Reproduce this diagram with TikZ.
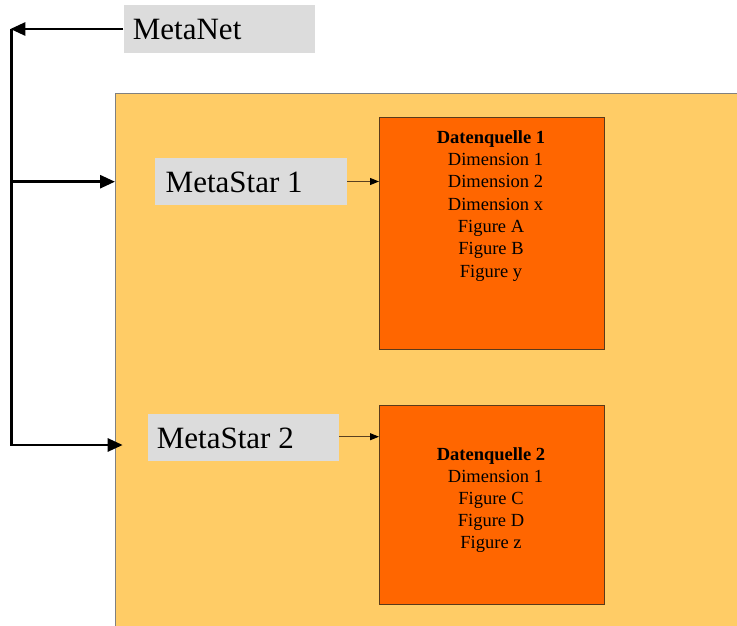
\documentclass[tikz,border=0pt]{standalone}
\usepackage{fontspec}
\setmainfont{Liberation Serif}
\usetikzlibrary{arrows.meta}
\definecolor{grayfill}{HTML}{DCDCDC}
\definecolor{yellowfill}{HTML}{FFCC66}
\definecolor{orangefill}{HTML}{FF6600}
\definecolor{orangeline}{HTML}{5A3A1A}
\definecolor{thinarrow}{HTML}{5A4020}
\tikzset{
  graybox/.style={fill=grayfill, draw=none, rectangle, inner sep=0pt, anchor=north west},
  bigtext/.style={font=\fontsize{31}{37}\selectfont, inner sep=0pt, anchor=base west},
  dqbox/.style={fill=orangefill, draw=orangeline, line width=0.8pt, rectangle, inner sep=0pt, anchor=north west},
  dqtext/.style={font=\fontsize{18.5}{22}\selectfont, inner sep=0pt, anchor=base},
  busline/.style={line width=2.7pt},
  busarrow/.style={line width=2.7pt, -{Triangle[length=15pt,width=13pt]}},
  smallarrow/.style={line width=0.8pt, draw=thinarrow, -{Triangle[length=9pt,width=7pt,color=black]}}
}
\begin{document}
\begin{tikzpicture}[x=1pt,y=-1pt]
\clip (0,0) rectangle (737,626);
\fill[white] (0,0) rectangle (737,626);
% big yellow region
\draw[fill=yellowfill, draw=gray, line width=1pt] (115,93.3) rectangle (780,680);
% MetaNet
\node[graybox, minimum width=191.7pt, minimum height=47.7pt] (mn) at (123.3,5) {};
\node[bigtext] (mnt) at (132.7,40) {MetaNet};
% MetaStar boxes
\node[graybox, minimum width=191.7pt, minimum height=47pt] (ms1) at (155,157.3) {};
\node[bigtext] (ms1t) at (165.5,192.7) {MetaStar 1};
\node[graybox, minimum width=191.7pt, minimum height=47.4pt] (ms2) at (147.3,413.3) {};
\node[bigtext] (ms2t) at (156.7,448.3) {MetaStar 2};
% data source boxes
\node[dqbox, minimum width=224.5pt, minimum height=232.3pt] (dq1) at (379,116.7) {};
\node[dqbox, minimum width=224.5pt, minimum height=199.3pt] (dq2) at (379,405) {};
% data source 1 text
\node[dqtext, font=\fontsize{18.5}{22}\selectfont\bfseries] (d1h) at (491,143.3) {Datenquelle 1};
\node[dqtext] (d1a) at (495.5,165.6) {Dimension 1};
\node[dqtext] (d1b) at (495.5,187.9) {Dimension 2};
\node[dqtext] (d1c) at (495.5,210.2) {Dimension x};
\node[dqtext] (d1d) at (491,232.5) {Figure A};
\node[dqtext] (d1e) at (491,254.8) {Figure B};
\node[dqtext] (d1f) at (491,277.1) {Figure y};
% data source 2 text
\node[dqtext, font=\fontsize{18.5}{22}\selectfont\bfseries] (d2h) at (491,460) {Datenquelle 2};
\node[dqtext] (d2a) at (495.5,482.2) {Dimension 1};
\node[dqtext] (d2b) at (491,504.4) {Figure C};
\node[dqtext] (d2c) at (491,526.6) {Figure D};
\node[dqtext] (d2d) at (491,548.8) {Figure z};
% bus coordinates
\coordinate (bustop) at (11.7,29);
\coordinate (bus1) at (11.7,181.7);
\coordinate (bus2) at (11.7,445);
\coordinate (tip1) at (115,181.7);
\coordinate (tip2) at (122.7,445);
% bus connectors
\draw[busarrow] (mn.west |- bustop) -- ([xshift=-1.35pt]bustop);
\draw[busline] (bustop) -- ([yshift=1.35pt]bus2);
\draw[busarrow] ([xshift=-1.35pt]bus1) -- (tip1);
\draw[busarrow] ([xshift=-1.35pt]bus2) -- (tip2);
% thin connectors
\draw[smallarrow] (ms1.east |- 0,181.5) -- (dq1.west |- 0,181.5);
\draw[smallarrow] (ms2.east |- 0,436.7) -- (dq2.west |- 0,436.7);
\end{tikzpicture}
\end{document}
